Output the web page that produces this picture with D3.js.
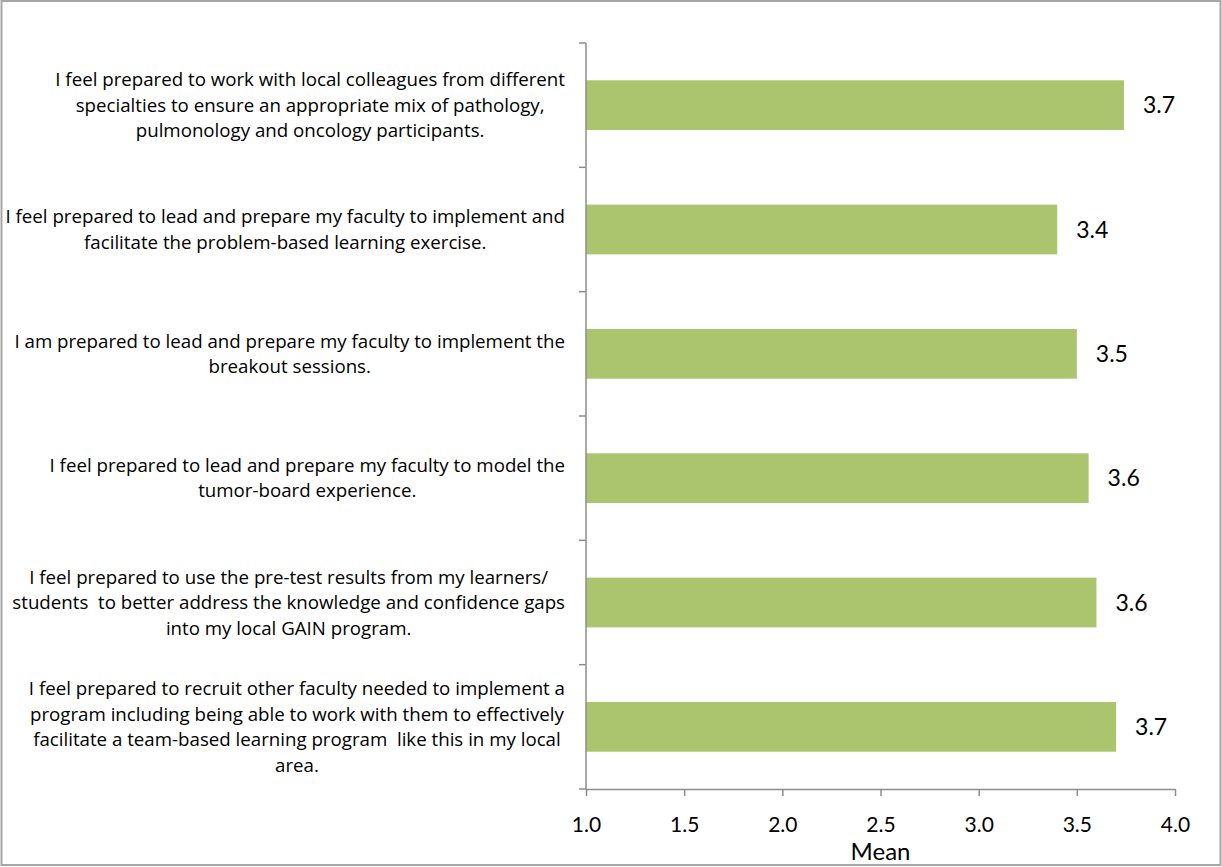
<!DOCTYPE html>
<html>
<head>
<meta charset="utf-8">
<script src="https://cdn.jsdelivr.net/npm/d3@7"></script>
<style>
  html, body { margin: 0; padding: 0; background: #fff; }
  svg { display: block; }
  text { font-family: Lato, "Open Sans", sans-serif; fill: #000; }
  .cat text { font-family: "Open Sans", Lato, sans-serif; white-space: pre; }
</style>
</head>
<body>
<svg id="chart" width="1222" height="867"></svg>
<script>
// Survey statements (each broken into display lines), top to bottom
const statements = [
  ["I feel prepared to work with local colleagues from different",
   "specialties to ensure an appropriate mix of pathology,",
   "pulmonology and oncology participants."],
  ["I feel prepared to lead and prepare my faculty to implement and",
   "facilitate the problem-based learning exercise."],
  ["I am prepared to lead and prepare my faculty to implement the",
   "breakout sessions."],
  ["I feel prepared to lead and prepare my faculty to model the",
   "tumor-board experience."],
  ["I feel prepared to use the pre-test results from my learners/",
   "students  to better address the knowledge and confidence gaps",
   "into my local GAIN program."],
  ["I feel prepared to recruit other faculty needed to implement a",
   "program including being able to work with them to effectively",
   "facilitate a team-based learning program  like this in my local",
   "area."]
];
const meanScores = [3.74, 3.40, 3.50, 3.56, 3.60, 3.70];
const xTicks = [1.0, 1.5, 2.0, 2.5, 3.0, 3.5, 4.0];
const xTitle = "Mean";

const svg = d3.select("#chart");
const W = 1222, H = 867;

// outer frame
svg.append("rect")
  .attr("x", 1.5).attr("y", 1).attr("width", W - 3).attr("height", H - 3)
  .attr("fill", "#fff").attr("stroke", "#a6a6a6").attr("stroke-width", 2);

const plot = { left: 586, right: 1175, top: 43, bottom: 789 };
const ids = d3.range(statements.length);

const x = d3.scaleLinear().domain([1, 4]).range([plot.left, plot.right]);
const y = d3.scaleBand().domain(ids).range([plot.top, plot.bottom])
  .paddingInner(0.6).paddingOuter(0.3);

const axisColor = "#8c8c8c";

// bars
svg.append("g").selectAll("rect").data(ids).join("rect")
  .attr("x", x(1))
  .attr("y", i => y(i))
  .attr("width", i => x(meanScores[i]) - x(1))
  .attr("height", y.bandwidth())
  .attr("fill", "#abc46e");

// value labels
const fmt = d3.format(".1f");
svg.append("g").selectAll("text").data(ids).join("text")
  .attr("x", i => x(meanScores[i]) + 19)
  .attr("y", i => y(i) + y.bandwidth() / 2)
  .attr("dy", "0.36em")
  .attr("font-size", 23)
  .text(i => fmt(meanScores[i]));

// x axis
const xAxis = svg.append("g")
  .attr("transform", `translate(0,${plot.bottom})`)
  .call(d3.axisBottom(x).tickValues(xTicks).tickFormat(d3.format(".1f"))
    .tickSizeInner(7).tickSizeOuter(0).tickPadding(21));
xAxis.select(".domain").attr("stroke", axisColor).attr("stroke-width", 1.5);
xAxis.selectAll(".tick line").attr("stroke", axisColor).attr("stroke-width", 1.5);
xAxis.selectAll(".tick text").attr("font-size", 21)
  .attr("font-family", "Lato, 'Open Sans', sans-serif").attr("fill", "#000");

svg.append("text")
  .attr("x", x(2.5)).attr("y", 860)
  .attr("text-anchor", "middle").attr("font-size", 24)
  .text(xTitle);

// y axis: line plus ticks on category boundaries
const step = y.step();
const boundaries = d3.range(statements.length + 1)
  .map(k => plot.top + step * y.paddingOuter() - step * y.paddingInner() / 2 + k * step);
const yAxisG = svg.append("g");
yAxisG.append("line")
  .attr("x1", plot.left).attr("x2", plot.left)
  .attr("y1", boundaries[0]).attr("y2", plot.bottom)
  .attr("stroke", axisColor).attr("stroke-width", 1.5);
yAxisG.selectAll("line.tick").data(boundaries).join("line")
  .attr("class", "tick")
  .attr("x1", plot.left - 7).attr("x2", plot.left)
  .attr("y1", d => d).attr("y2", d => d)
  .attr("stroke", axisColor).attr("stroke-width", 1.5);

// category labels: centred lines, block right-aligned next to the axis
const labelRight = 565, lineH = 25.5;
const labelG = svg.append("g").attr("class", "cat");

// size the label font so the first statement's widest line spans 510px
const probe = labelG.append("text").attr("font-size", 16).text(statements[0][0]);
const labelSize = 16 * 510 / probe.node().getComputedTextLength();
probe.remove();

ids.forEach(i => {
  const lines = statements[i];
  const g = labelG.append("g");
  const texts = g.selectAll("text").data(lines).join("text")
    .attr("font-size", labelSize)
    .attr("text-anchor", "middle")
    .text(d => d);
  let maxW = 0;
  texts.each(function () { maxW = Math.max(maxW, this.getComputedTextLength()); });
  const cx = labelRight - maxW / 2;
  const cy = y(i) + y.bandwidth() / 2;
  const y0 = cy - (lines.length - 1) * lineH / 2;
  texts.attr("x", cx).attr("y", (d, k) => y0 + k * lineH).attr("dy", "0.35em");
});
</script>
</body>
</html>
